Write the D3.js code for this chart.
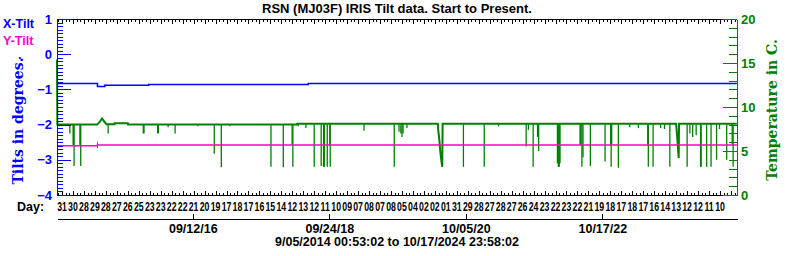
<!DOCTYPE html>
<html>
<head>
<meta charset="utf-8">
<script src="https://cdn.jsdelivr.net/npm/d3@7"></script>
<style>
body { margin: 0; background: #fff; }
text { font-family: "Liberation Sans", Arial, sans-serif; font-weight: bold; }
.crisp line, .crisp path { shape-rendering: crispEdges; }
</style>
</head>
<body>
<svg id="chart" width="800" height="256"></svg>
<script>
// time span of the record
const startTime = "2014-09-05 00:53:02"
const endTime = "2024-10-17 23:58:02"

// X-Tilt (degrees)
const xTiltDates = ["2014-09-05", "2015-04-12", "2015-04-13", "2015-05-22", "2015-05-23", "2016-01-15",
    "2016-01-16", "2018-06-01", "2018-06-02", "2024-10-17"]
const xTiltValues = [-0.83, -0.83, -0.92, -0.92, -0.885, -0.885, -0.86, -0.855, -0.83, -0.83]

// Y-Tilt (degrees)
const yTiltDates = ["2014-09-05", "2015-04-12", "2015-04-13", "2024-10-17"]
const yTiltValues = [-2.60, -2.60, -2.58, -2.58]
const yTiltGlitch = ["2015-04-13", -2.67, -2.49]

// temperature (C), main trace
const tempDates = ["2014-09-05", "2014-09-07", "2015-04-12", "2015-04-25", "2015-05-08", "2015-05-20",
    "2015-06-01", "2015-07-15", "2015-07-16", "2015-09-25", "2015-09-26", "2018-04-01", "2018-04-02",
    "2020-05-06", "2020-05-08", "2020-05-14", "2020-05-19", "2020-05-25", "2020-05-30", "2020-06-01",
    "2023-11-22", "2023-11-25", "2023-12-01", "2023-12-06", "2023-12-08", "2024-10-17"]
const tempValues = [15.4, 8.0, 8.0, 8.3, 8.7, 8.35, 8.05, 8.05, 8.15, 8.15, 8.0, 8.0, 8.1,
    8.1, 7.4, 6.3, 5.0, 3.9, 3.2, 8.1, 8.1, 7.4, 5.7, 4.2, 8.1, 8.1]

// temperature drop-outs: date and lowest value
const dropDates = ["2014-09-20", "2014-11-14", "2014-12-02", "2014-12-04", "2014-12-07", "2015-01-08",
    "2015-01-10", "2015-01-12", "2015-06-10", "2015-12-18", "2015-12-22", "2016-03-05", "2016-03-09",
    "2016-05-01", "2016-06-08", "2016-10-10", "2017-01-07", "2017-02-14", "2017-04-01", "2017-11-11",
    "2018-01-17", "2018-03-06", "2018-03-10", "2018-04-08", "2018-05-20", "2018-07-04", "2018-08-11",
    "2018-08-24", "2018-08-28", "2018-09-13", "2018-09-27", "2018-09-29", "2019-04-01", "2019-09-12",
    "2019-10-08", "2019-10-18", "2019-10-24", "2019-10-30", "2019-11-20", "2020-09-22", "2021-01-13",
    "2021-04-01", "2021-08-29", "2021-09-10", "2021-10-06", "2021-10-30", "2021-11-05", "2022-02-15",
    "2022-02-20", "2022-02-25", "2022-03-01", "2022-06-18", "2022-06-22", "2022-06-28", "2022-07-04",
    "2022-08-13", "2022-11-01", "2022-12-01", "2022-12-04", "2022-12-07", "2023-01-12", "2023-03-15",
    "2023-05-01", "2023-06-21", "2023-06-24", "2023-07-20", "2023-08-30", "2023-09-20", "2023-10-19",
    "2024-01-21", "2024-02-05", "2024-02-20", "2024-03-10", "2024-04-03", "2024-04-06", "2024-05-06",
    "2024-05-30", "2024-06-29", "2024-07-15", "2024-08-23", "2024-09-22", "2024-09-27"]
const dropLows = [7.8, 7.0, 5.7, 5.7, 3.3, 5.7,
    5.7, 3.3, 7.0, 7.0, 7.0, 7.0, 7.0,
    7.7, 7.0, 7.8, 4.7, 3.15, 7.8, 3.2,
    3.15, 5.7, 3.2, 7.8, 7.6, 3.2, 3.3,
    3.2, 3.2, 3.2, 5.7, 3.2, 7.3, 3.2,
    7.2, 7.0, 6.6, 7.0, 7.6, 3.2, 3.2,
    7.8, 5.5, 7.4, 3.2, 6.6, 5.0, 3.6,
    3.2, 3.2, 3.6, 5.7, 5.7, 3.2, 4.3,
    3.3, 3.8, 5.7, 3.2, 5.7, 3.1, 7.7,
    7.6, 5.7, 3.2, 3.2, 7.6, 7.5, 3.2,
    3.2, 7.0, 6.6, 6.8, 3.2, 3.2, 3.2,
    3.2, 4.0, 7.5, 4.0, 5.7, 3.2]

// axis labels
const tiltTicks = [1, 0, -1, -2, -3, -4]
const tempTicks = [0, 5, 10, 15, 20]
const dateTicks = ["2016-09-12", "2018-09-24", "2020-10-05", "2022-10-17"]
const dayLabels = ["31", "30", "28", "29", "28", "27", "26", "25", "23", "23", "22", "22", "21", "20", "19",
    "17", "18", "17", "16", "15", "14", "12", "13", "12", "11", "10", "09", "07", "08", "07", "08",
    "05", "04", "02", "02", "01", "31", "29", "28", "27", "28", "27", "26", "24", "23", "22", "23",
    "22", "21", "19", "18", "17", "18", "17", "16", "14", "13", "12", "12", "11", "10"]

const BLUE = "#0000ff", PINK = "#ff00cc", GREEN = "#008000"
const plotL = 57, plotR = 737, plotT = 19, plotB = 195

const parseDay = d3.timeParse("%Y-%m-%d")
const parseTime = d3.timeParse("%Y-%m-%d %H:%M:%S")
const fmtTime = d3.timeFormat("%-m/%d/%Y %H:%M:%S")

const svg = d3.select("#chart")

const x = d3.scaleTime().domain([parseTime(startTime), parseTime(endTime)]).range([plotL, plotR])
const yTilt = d3.scaleLinear().domain([-4, 1]).range([plotB, plotT])
const yTemp = d3.scaleLinear().domain([0, 20]).range([plotB, plotT])

// title
svg.append("text").attr("x", 397).attr("y", 13).attr("text-anchor", "middle")
    .style("font-size", "13px").text("RSN (MJ03F) IRIS Tilt data. Start to Present.")

// legend
svg.append("text").attr("x", 3).attr("y", 28).style("font-size", "12.5px").attr("fill", BLUE).text("X-Tilt")
svg.append("text").attr("x", 3).attr("y", 45).style("font-size", "12.5px").attr("fill", PINK).text("Y-Tilt")
svg.append("text").attr("x", 18).attr("y", 59).style("font-size", "12.5px").attr("fill", BLUE).text(".")

// temperature trace
let tempData = tempDates.map((d, i) => ({date: parseDay(d), v: tempValues[i]}))
let drops = dropDates.map((d, i) => ({date: parseDay(d), low: dropLows[i]}))

svg.append("g").selectAll("line").data(drops).join("line")
    .attr("x1", d => x(d.date)).attr("x2", d => x(d.date))
    .attr("y1", yTemp(8.05)).attr("y2", d => yTemp(d.low))
    .attr("stroke", GREEN).attr("stroke-width", 1.3)

svg.append("path").datum(tempData)
    .attr("fill", "none").attr("stroke", GREEN).attr("stroke-width", 2)
    .attr("d", d3.line().x(d => x(d.date)).y(d => yTemp(d.v)))

// Y-Tilt trace
let yData = yTiltDates.map((d, i) => ({date: parseDay(d), v: yTiltValues[i]}))
svg.append("path").datum(yData)
    .attr("fill", "none").attr("stroke", PINK).attr("stroke-width", 1.6)
    .attr("d", d3.line().x(d => x(d.date)).y(d => yTilt(d.v)))
svg.append("line")
    .attr("x1", x(parseDay(yTiltGlitch[0]))).attr("x2", x(parseDay(yTiltGlitch[0])))
    .attr("y1", yTilt(yTiltGlitch[1])).attr("y2", yTilt(yTiltGlitch[2]))
    .attr("stroke", PINK).attr("stroke-width", 1)

// X-Tilt trace
let xData = xTiltDates.map((d, i) => ({date: parseDay(d), v: xTiltValues[i]}))
svg.append("path").datum(xData)
    .attr("fill", "none").attr("stroke", BLUE).attr("stroke-width", 1.5)
    .attr("d", d3.line().curve(d3.curveStepAfter).x(d => x(d.date)).y(d => yTilt(d.v)))

// day ticks along top and bottom, three per label
const dayScale = d3.scaleLinear().domain([0, dayLabels.length - 1]).range([62, 720])
const dayMinor = d3.range(-1, 3 * dayLabels.length + 3).map(k => k / 3)
    .filter(k => dayScale(k) > plotL + 1 && dayScale(k) < plotR - 1)
const dayMajor = dayMinor.filter(k => Number.isInteger(k))

function blackTicks(axis, y, vals, size) {
    svg.append("g").attr("class", "crisp").attr("transform", `translate(0,${y})`)
        .call(axis(dayScale).tickValues(vals).tickSize(size).tickSizeOuter(0).tickFormat(""))
        .call(g => g.select(".domain").remove())
        .call(g => g.selectAll("line").attr("stroke", "#000"))
}
blackTicks(d3.axisBottom, plotT, dayMinor, 3)
blackTicks(d3.axisBottom, plotT, dayMajor, 5)
blackTicks(d3.axisTop, plotB + 1, dayMinor, 3)
blackTicks(d3.axisTop, plotB + 1, dayMajor, 5)

// frame: top and bottom black lines
const frame = svg.append("g").attr("class", "crisp")
frame.append("line").attr("x1", plotL).attr("x2", plotR).attr("y1", plotT + 0.5).attr("y2", plotT + 0.5)
    .attr("stroke", "#000")
frame.append("line").attr("x1", plotL).attr("x2", plotR).attr("y1", plotB + 0.5).attr("y2", plotB + 0.5)
    .attr("stroke", "#000")

svg.append("text").attr("x", 17).attr("y", 211).style("font-size", "12.5px").text("Day:")
svg.append("g").selectAll("text").data(dayLabels).join("text")
    .attr("transform", (d, i) => `translate(${dayScale(i)},211) scale(0.7,1)`)
    .attr("text-anchor", "middle").style("font-size", "12.5px")
    .text(d => d)

// left axis, blue
const tiltMinor = d3.range(-40, 11).map(k => k / 10)
svg.append("g").attr("class", "crisp").attr("transform", `translate(${plotL},0)`)
    .call(d3.axisLeft(yTilt).tickValues(tiltMinor).tickSize(-6).tickFormat(""))
    .call(g => g.selectAll("line,path").attr("stroke", BLUE))
    .call(g => g.select(".domain").remove())
svg.append("g").attr("class", "crisp").attr("transform", `translate(${plotL},0)`)
    .call(d3.axisLeft(yTilt).tickValues(tiltTicks).tickFormat(d3.format("d"))
        .tickSize(-14).tickSizeOuter(0).tickPadding(5))
    .call(g => g.selectAll("line,path").attr("stroke", BLUE))
    .call(g => g.selectAll("text").attr("fill", BLUE)
        .style("font-size", "13px").style("font-family", "Liberation Sans").style("font-weight", "bold"))

// right axis, green
svg.append("g").attr("class", "crisp").attr("transform", `translate(${plotR},0)`)
    .call(d3.axisRight(yTemp).tickValues(d3.range(0, 21)).tickSize(-8).tickFormat(""))
    .call(g => g.selectAll("line,path").attr("stroke", GREEN))
    .call(g => g.select(".domain").remove())
svg.append("g").attr("class", "crisp").attr("transform", `translate(${plotR},0)`)
    .call(d3.axisRight(yTemp).tickValues(tempTicks).tickFormat(d3.format("d"))
        .tickSize(-14).tickSizeOuter(0).tickPadding(4))
    .call(g => g.selectAll("line,path").attr("stroke", GREEN))
    .call(g => g.selectAll("text").attr("fill", GREEN)
        .style("font-size", "13px").style("font-family", "Liberation Sans").style("font-weight", "bold"))

// axis titles
svg.append("text").attr("transform", "translate(23,121) rotate(-90)").attr("text-anchor", "middle")
    .style("font-family", "DejaVu Serif").style("font-size", "14px").attr("fill", BLUE)
    .text("Tilts in degrees.")
svg.append("text").attr("transform", "translate(777,110) rotate(-90)").attr("text-anchor", "middle")
    .style("font-family", "DejaVu Serif").style("font-size", "14px").attr("fill", GREEN)
    .text("Temperature in C.")

// date axis
svg.append("g").attr("class", "crisp").attr("transform", "translate(0,219)")
    .call(d3.axisBottom(x).tickValues(dateTicks.map(parseDay)).tickFormat(d3.timeFormat("%m/%d/%y"))
        .tickSizeInner(-5).tickSizeOuter(0).tickPadding(5))
    .call(g => g.selectAll("line,path").attr("stroke", "#000"))
    .call(g => g.selectAll("text").attr("fill", "#000")
        .style("font-size", "12.5px").style("font-family", "Liberation Sans").style("font-weight", "bold"))

svg.append("text").attr("x", 397).attr("y", 246).attr("text-anchor", "middle")
    .style("font-size", "12.5px")
    .text(fmtTime(parseTime(startTime)) + " to " + fmtTime(parseTime(endTime)))
</script>
</body>
</html>
